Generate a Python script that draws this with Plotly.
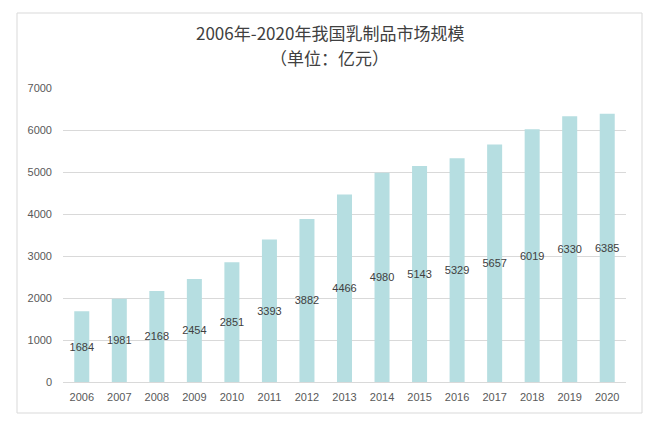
import plotly.graph_objects as go

years = [str(y) for y in range(2006, 2021)]
values = [1684, 1981, 2168, 2454, 2851, 3393, 3882, 4466, 4980, 5143, 5329, 5657, 6019, 6330, 6385]
y_ticks = [0, 1000, 2000, 3000, 4000, 5000, 6000, 7000]

# page body has an 8px margin, so the figure is drawn from screen (8, 8)
OFF = 8
W, H = 661 - OFF, 421 - OFF
ml, mr, mt, mb = 63 - OFF, 35, 88 - OFF, 39
pw, ph = W - ml - mr, H - mt - mb

def px(x):  # screen x -> paper
    return (x - OFF - ml) / pw

def py(y):  # screen y -> paper
    return (H - mb - (y - OFF)) / ph

fig = go.Figure(go.Bar(
    x=years, y=values,
    marker=dict(color="#b6dee1", line=dict(width=0)),
    text=[str(v) for v in values],
    textposition="inside", insidetextanchor="middle",
    textfont=dict(family="Liberation Sans, Arial", size=11, color="#404040"),
    textangle=0, cliponaxis=False,
))

fig.update_layout(
    width=W, height=H,
    margin=dict(l=ml, r=mr, t=mt, b=mb, autoexpand=False),
    paper_bgcolor="white", plot_bgcolor="white",
    bargap=0.6,
    showlegend=False,
    uniformtext=dict(mode="show", minsize=11),
    font=dict(family="Liberation Sans, Arial", color="#595959"),
    xaxis=dict(showgrid=False, showline=True, linecolor="#d9d9d9", ticks="",
               automargin=False, tickfont=dict(size=11, color="#595959"),
               ticklabelstandoff=5),
    yaxis=dict(range=[0, 7000], tickvals=y_ticks, showgrid=True, gridcolor="#d9d9d9",
               zeroline=False, ticks="", automargin=False,
               tickfont=dict(size=11, color="#595959"), ticklabelstandoff=10),
    shapes=[dict(type="rect", xref="paper", yref="paper",
                 x0=px(17), x1=px(642), y0=py(413), y1=py(13),
                 line=dict(color="#d9d9d9", width=1), fillcolor="rgba(0,0,0,0)", layer="below")],
    annotations=[
        dict(text="2006年-2020年我国乳制品市场规模", xref="paper", yref="paper",
             x=px(330), y=py(33), xanchor="center", yanchor="middle", showarrow=False,
             font=dict(family="Noto Sans CJK SC", size=17, color="#404040")),
        dict(text="（单位：亿元）", xref="paper", yref="paper",
             x=px(329), y=py(57), xanchor="center", yanchor="middle", showarrow=False,
             font=dict(family="Noto Sans CJK SC", size=17, color="#404040")),
    ],
)

fig.write_html("out.html")
